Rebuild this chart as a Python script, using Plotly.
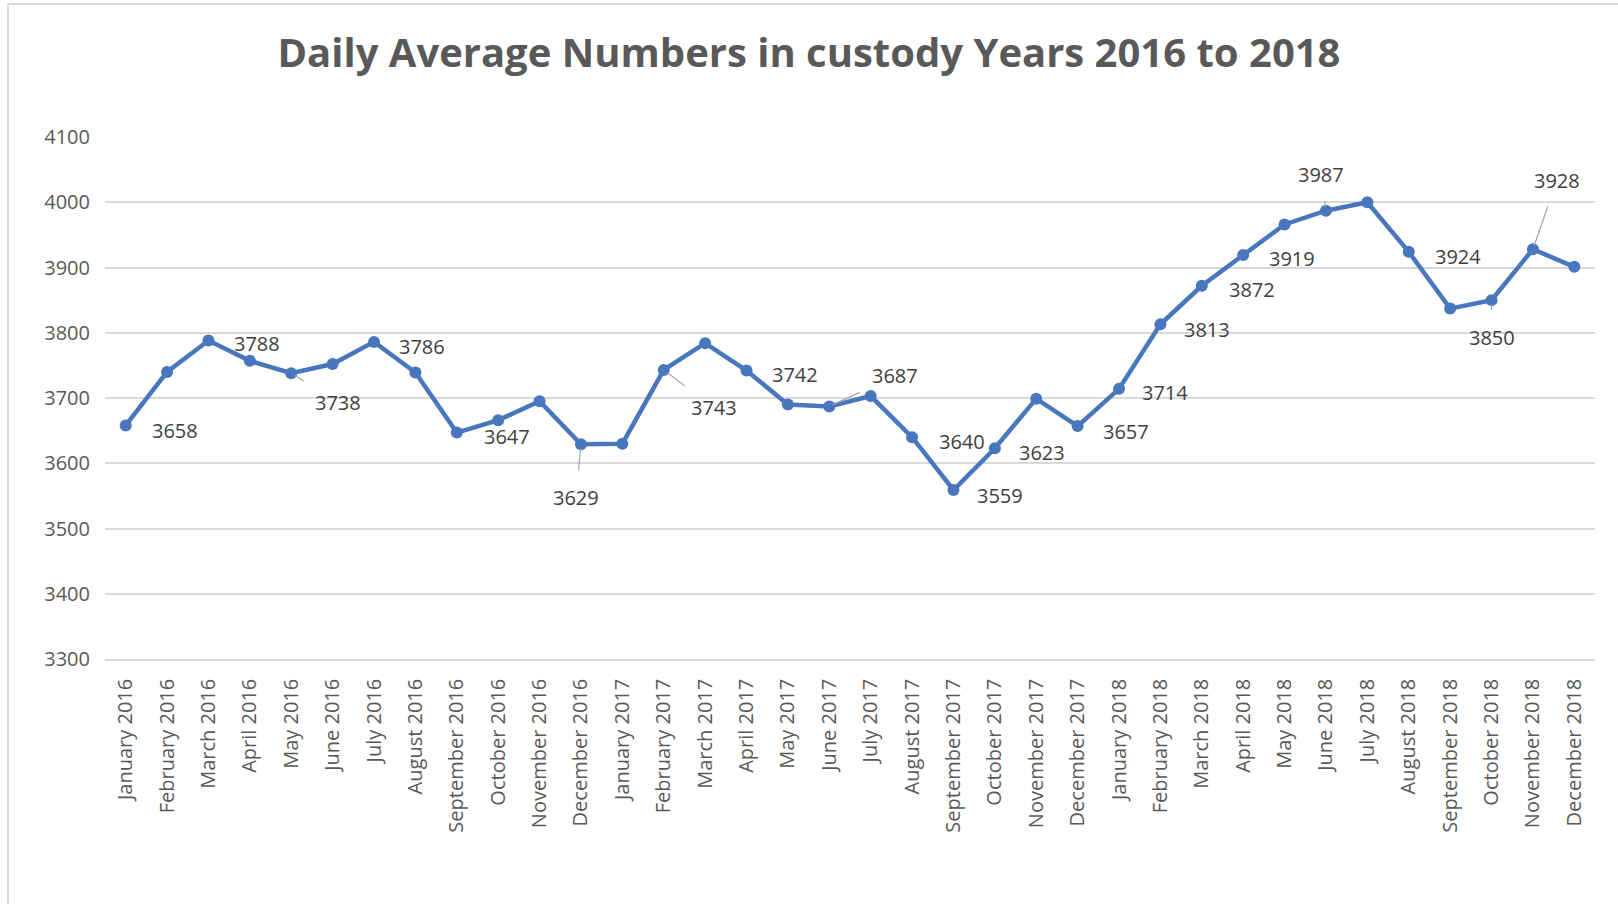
import plotly.graph_objects as go

months = ["January 2016", "February 2016", "March 2016", "April 2016", "May 2016", "June 2016",
          "July 2016", "August 2016", "September 2016", "October 2016", "November 2016", "December 2016",
          "January 2017", "February 2017", "March 2017", "April 2017", "May 2017", "June 2017",
          "July 2017", "August 2017", "September 2017", "October 2017", "November 2017", "December 2017",
          "January 2018", "February 2018", "March 2018", "April 2018", "May 2018", "June 2018",
          "July 2018", "August 2018", "September 2018", "October 2018", "November 2018", "December 2018"]

values = [3658, 3740, 3788, 3757, 3738, 3752, 3786, 3739, 3647, 3666, 3695, 3629,
          3630, 3743, 3784, 3742, 3690, 3687, 3703, 3640, 3559, 3623, 3699, 3657,
          3714, 3813, 3872, 3919, 3966, 3987, 4000, 3924, 3837, 3850, 3928, 3901]

# indices of the points that carry a data label
labelled = [0, 2, 4, 6, 8, 11, 13, 15, 17, 19, 20, 21, 23, 24, 25, 26, 27, 29, 31, 33, 34]

y_ticks = [3300, 3400, 3500, 3600, 3700, 3800, 3900, 4000, 4100]

# label placement (pixel offsets from the point) and whether a leader line is drawn
label_style = {
    0: (49, 5, False), 2: (49, 3, False), 4: (47, 29, True), 6: (48, 5, False),
    8: (50, 4, False), 11: (-5, 53, True), 13: (50, 38, True), 15: (48, 4, False),
    17: (66, -31, True), 19: (50, 4, False), 20: (47, 5, False), 21: (47, 4, False),
    23: (48, 5, False), 24: (46, 4, False), 25: (47, 5, False), 26: (50, 4, False),
    27: (49, 3, False), 29: (-5, -36, True), 31: (49, 5, False), 33: (0, 37, True),
    34: (24, -69, True),
}

LINE = "#4877BE"
FONT = "Open Sans"

fig = go.Figure()
fig.add_trace(go.Scatter(
    x=months, y=values, mode="lines+markers",
    line=dict(color=LINE, width=4.5),
    marker=dict(color=LINE, size=12),
    hoverinfo="x+y", showlegend=False,
))

annotations = []
for i in labelled:
    ax, ay, leader = label_style[i]
    annotations.append(dict(
        x=months[i], y=values[i], xref="x", yref="y",
        text=str(values[i]), showarrow=True,
        ax=ax, ay=ay, axref="pixel", ayref="pixel",
        arrowhead=0, arrowwidth=1.2,
        arrowcolor="#A6A6A6" if leader else "rgba(0,0,0,0)",
        standoff=4 if leader else 0, startstandoff=12 if leader else 0,
        font=dict(family=FONT, size=20, color="#404040"),
    ))

fig.update_layout(
    width=1618, height=904,
    margin=dict(l=105, r=23, t=137, b=245),
    paper_bgcolor="white", plot_bgcolor="white",
    title=dict(text="<b>Daily Average Numbers in custody Years 2016 to 2018</b>",
               x=0.5, xanchor="center", y=1 - 53 / 904, yanchor="middle",
               font=dict(family=FONT, size=40, color="#595959")),
    annotations=annotations,
    shapes=[dict(type="rect", xref="paper", yref="paper",
                 x0=(8 - 105) / 1490, x1=(1640 - 105) / 1490,
                 y0=-(920 - 659) / 522, y1=(659 - 4) / 522,
                 line=dict(color="#D9D9D9", width=2), fillcolor="rgba(0,0,0,0)",
                 layer="below")],
)

fig.update_xaxes(
    type="category", categoryorder="array", categoryarray=months,
    range=[-0.5, len(months) - 0.5],
    tickangle=-90, showgrid=False, zeroline=False,
    showline=True, linecolor="#D9D9D9", linewidth=1.5,
    ticks="", ticklabelstandoff=10,
    tickfont=dict(family=FONT, size=20, color="#595959"),
)
fig.update_yaxes(
    range=[3300, 4100], tickvals=y_ticks,
    showgrid=True, gridcolor="#D9D9D9", gridwidth=1.5,
    zeroline=False, showline=False, ticks="", ticklabelstandoff=14,
    tickfont=dict(family=FONT, size=20, color="#595959"),
)

fig.write_html("out.html")
